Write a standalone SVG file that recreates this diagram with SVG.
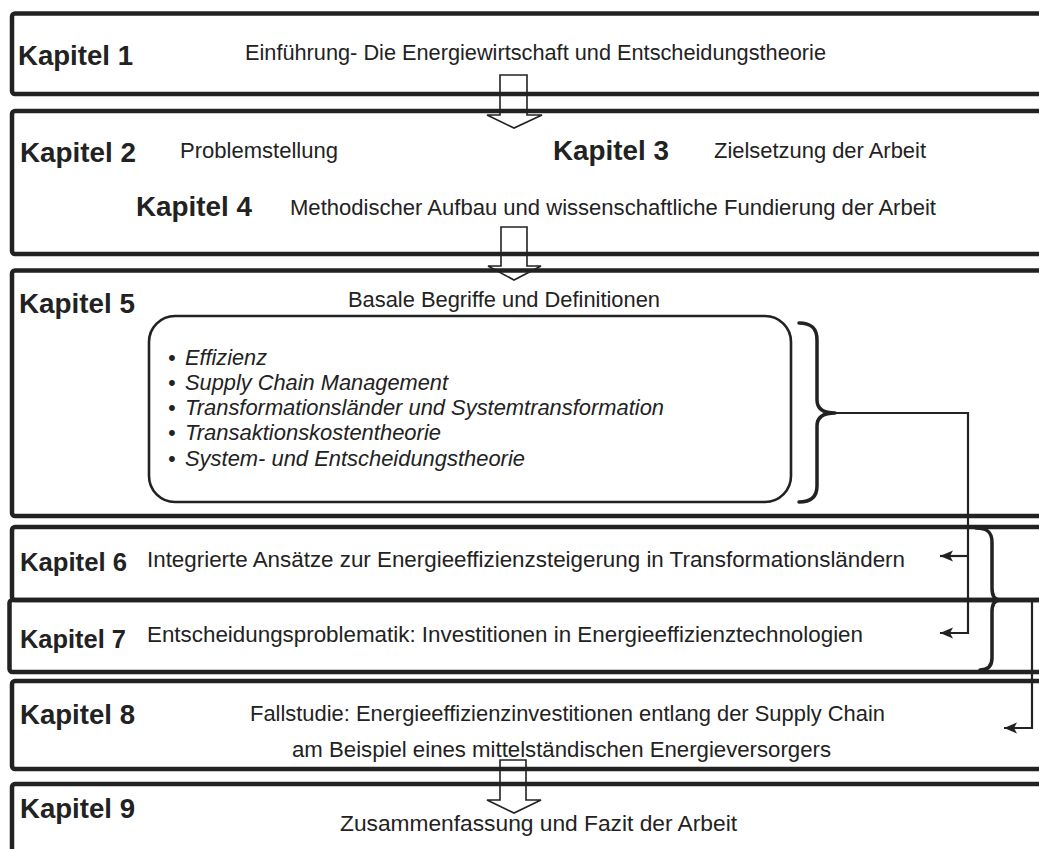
<svg xmlns="http://www.w3.org/2000/svg" width="1039" height="849" viewBox="0 0 1039 849">
<style>
.box{fill:none;stroke:#222;stroke-width:4.5}
.kap{font-family:"Liberation Sans",Arial,sans-serif;font-weight:bold;font-size:27px;fill:#222}
.kap2{font-family:"Liberation Sans",Arial,sans-serif;font-weight:bold;font-size:25.5px;fill:#222}
.desc{font-family:"Liberation Sans",Arial,sans-serif;font-size:22px;fill:#222}
.item{font-family:"Liberation Sans",Arial,sans-serif;font-size:21.5px;font-style:italic;fill:#222}
.blk{fill:none;stroke:#222;stroke-width:1.6}
.brace{fill:none;stroke:#222;stroke-width:3.5;stroke-linecap:round;stroke-linejoin:round}
.conn{fill:none;stroke:#222;stroke-width:2.2}
.rbox{fill:none;stroke:#222;stroke-width:2.6}
</style>
<defs>
<marker id="ah" markerUnits="userSpaceOnUse" markerWidth="14" markerHeight="12" refX="13" refY="6" orient="auto">
<path d="M0,0.5 L13,6 L0,11.5 L3,6 Z" fill="#222"/>
</marker>
</defs>
<rect width="1039" height="849" fill="#fff"/>

<g id="kapitel1">
<rect class="box" x="12" y="13.5" width="1100" height="80.5" rx="3"/>
<text class="kap" x="18" y="65" textLength="115" lengthAdjust="spacingAndGlyphs">Kapitel 1</text>
<text class="desc" x="245" y="60" textLength="581" lengthAdjust="spacingAndGlyphs">Einführung- Die Energiewirtschaft und Entscheidungstheorie</text>
</g>

<g id="kapitel2-4">
<rect class="box" x="12" y="111" width="1100" height="143" rx="3"/>
<text class="kap" x="20" y="162" textLength="116" lengthAdjust="spacingAndGlyphs">Kapitel 2</text>
<text class="desc" x="180" y="158" textLength="158" lengthAdjust="spacingAndGlyphs">Problemstellung</text>
<text class="kap" x="553" y="160" textLength="116" lengthAdjust="spacingAndGlyphs">Kapitel 3</text>
<text class="desc" x="714" y="158" textLength="212" lengthAdjust="spacingAndGlyphs">Zielsetzung der Arbeit</text>
<text class="kap" x="136" y="216" textLength="116" lengthAdjust="spacingAndGlyphs">Kapitel 4</text>
<text class="desc" x="290" y="215" textLength="646" lengthAdjust="spacingAndGlyphs">Methodischer Aufbau und wissenschaftliche Fundierung der Arbeit</text>
</g>

<g id="kapitel5">
<rect class="box" x="12" y="270.5" width="1100" height="245.5" rx="3"/>
<text class="kap" x="19" y="313" textLength="116" lengthAdjust="spacingAndGlyphs">Kapitel 5</text>
<text class="desc" x="348" y="307" textLength="312" lengthAdjust="spacingAndGlyphs">Basale Begriffe und Definitionen</text>
<rect class="rbox" x="149" y="316" width="642" height="186" rx="26"/>
<text class="item" x="168" y="365">•</text>
<text class="item" x="185" y="365" textLength="82" lengthAdjust="spacingAndGlyphs">Effizienz</text>
<text class="item" x="168" y="390">•</text>
<text class="item" x="185" y="390" textLength="263" lengthAdjust="spacingAndGlyphs">Supply Chain Management</text>
<text class="item" x="168" y="415">•</text>
<text class="item" x="185" y="415" textLength="479" lengthAdjust="spacingAndGlyphs">Transformationsländer und Systemtransformation</text>
<text class="item" x="168" y="440">•</text>
<text class="item" x="185" y="440" textLength="256" lengthAdjust="spacingAndGlyphs">Transaktionskostentheorie</text>
<text class="item" x="168" y="466">•</text>
<text class="item" x="185" y="466" textLength="340" lengthAdjust="spacingAndGlyphs">System- und Entscheidungstheorie</text>
</g>

<g id="kapitel6">
<rect class="box" x="12" y="527" width="1100" height="73" rx="3"/>
<text class="kap2" x="20" y="571" textLength="107" lengthAdjust="spacingAndGlyphs">Kapitel 6</text>
<text class="desc" x="147" y="567" textLength="758" lengthAdjust="spacingAndGlyphs">Integrierte Ansätze zur Energieeffizienzsteigerung in Transformationsländern</text>
</g>

<g id="kapitel7">
<rect class="box" x="9.5" y="600" width="1100" height="72" rx="3"/>
<text class="kap2" x="20" y="648" textLength="106" lengthAdjust="spacingAndGlyphs">Kapitel 7</text>
<text class="desc" x="147" y="642" textLength="716" lengthAdjust="spacingAndGlyphs">Entscheidungsproblematik: Investitionen in Energieeffizienztechnologien</text>
</g>

<g id="kapitel8">
<rect class="box" x="12" y="681" width="1100" height="88" rx="3"/>
<text class="kap" x="20" y="724" textLength="115" lengthAdjust="spacingAndGlyphs">Kapitel 8</text>
<text class="desc" x="250" y="721" textLength="635" lengthAdjust="spacingAndGlyphs">Fallstudie: Energieeffizienzinvestitionen entlang der Supply Chain</text>
<text class="desc" x="292" y="757" textLength="539" lengthAdjust="spacingAndGlyphs">am Beispiel eines mittelständischen Energieversorgers</text>
</g>

<g id="kapitel9">
<rect class="box" x="12" y="784" width="1100" height="120" rx="3"/>
<text class="kap" x="20" y="818" textLength="115" lengthAdjust="spacingAndGlyphs">Kapitel 9</text>
<text class="desc" x="340" y="831" textLength="397" lengthAdjust="spacingAndGlyphs">Zusammenfassung und Fazit der Arbeit</text>
</g>

<g id="connectors">
<path class="blk" d="M500,75 H527 V115 H542 L514,128 L487,115 H500 Z"/>
<path class="blk" d="M501,227 H527 V266 H541 L514,280 L488,266 H501 Z"/>
<path class="blk" d="M500,760 H526 V800 H541 L514,813 L487,800 H500 Z"/>
<path class="brace" d="M799,323 C811,323 817,328 817,340 V400 C817,409 823,413 835,413 C823,413 817,417 817,426 V486 C817,497 811,502 799,502"/>
<path class="brace" d="M976,528 C987,528 992,532 992,542 V588 C992,596 995,600 1000,600 C995,600 992,604 992,612 V658 C992,666 988,670 980,670"/>
<path class="conn" d="M835,413 H968 V633 H940" marker-end="url(#ah)"/>
<path class="conn" d="M968,556 H940" marker-end="url(#ah)"/>
<path class="conn" d="M1000,601 H1032 V728 H1004" marker-end="url(#ah)"/>
</g>
</svg>
